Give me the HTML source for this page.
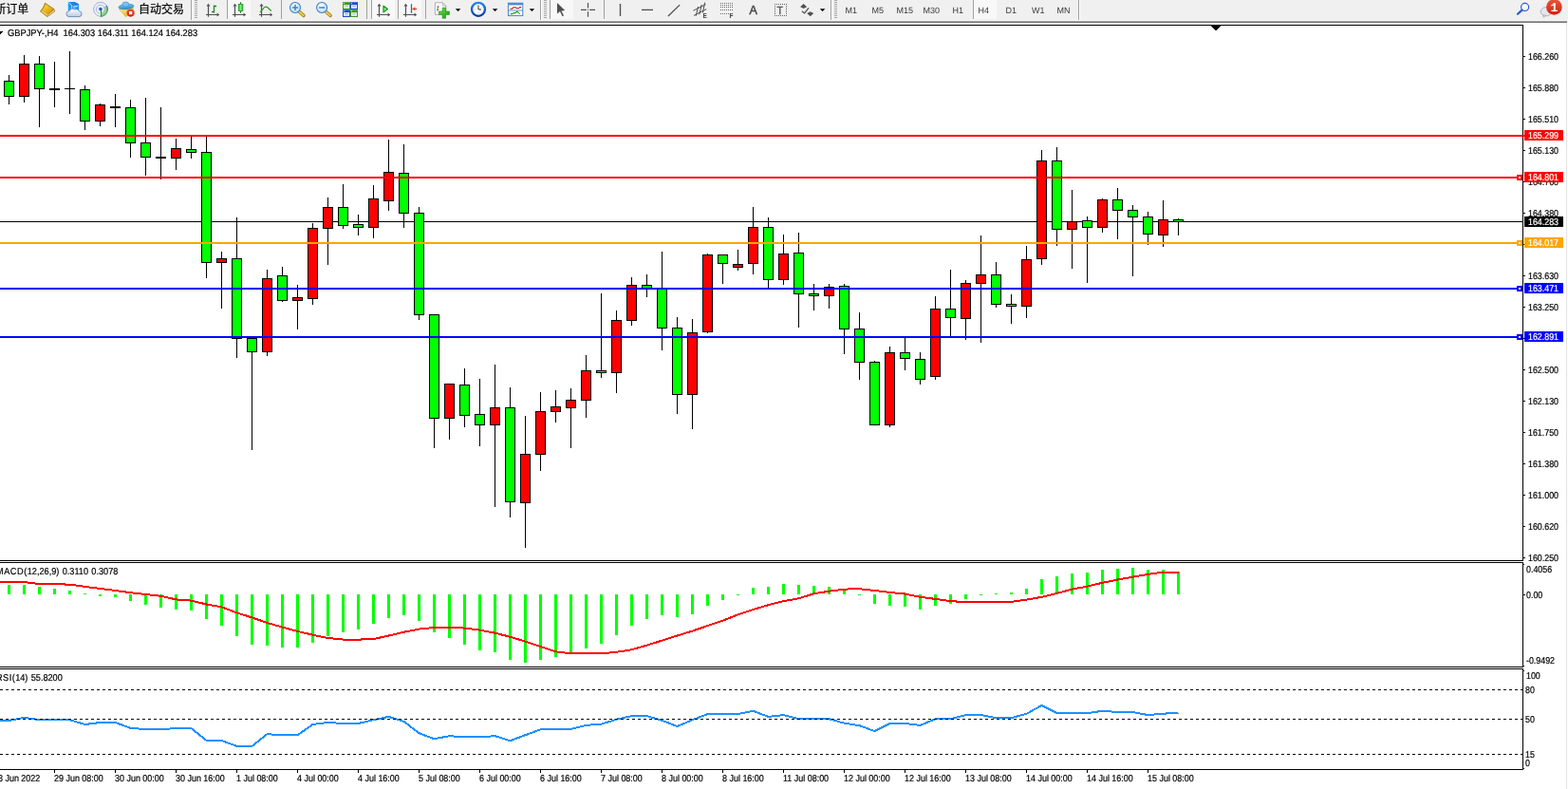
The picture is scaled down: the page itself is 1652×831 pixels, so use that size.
<!DOCTYPE html>
<html lang="zh">
<head>
<meta charset="utf-8">
<title>GBPJPY-,H4</title>
<style>
html,body{margin:0;padding:0;background:#fff;}
body{width:1652px;height:831px;position:relative;overflow:hidden;font-family:"Liberation Sans","Noto Sans CJK SC",sans-serif;}
#tb{position:absolute;left:0;top:0;width:1652px;height:24px;background:#f0f0f0;overflow:hidden;}
#tb .l0{position:absolute;left:0;top:21px;width:1652px;height:1px;background:#f6f6f6;}
#tb .l1{position:absolute;left:0;top:22px;width:1651px;height:1px;background:#a8a8a8;}
#tb .l2{position:absolute;left:0;top:23px;width:1651px;height:1px;background:#6e6e6e;}
#tbsvg{position:absolute;left:0;top:0;}
#chart{position:absolute;left:0;top:0;}
.ax,.pb,.tt{position:absolute;white-space:nowrap;font-size:10px;line-height:11px;color:#000;transform:scaleX(0.885);transform-origin:0 0;word-spacing:0.9px;text-rendering:geometricPrecision;-webkit-text-stroke:0.22px currentColor;}
.pb{left:1606px;width:41px;height:11px;color:#fff;transform:none;}
.pb span{position:absolute;left:4.3px;top:1px;transform:scaleX(0.885);transform-origin:0 0;}
.tt{color:#3a3a3a;top:5.5px;font-size:9px;transform:none;-webkit-text-stroke:0;}
.cn{position:absolute;white-space:nowrap;font-size:12px;line-height:14px;top:2.5px;color:#000;-webkit-text-stroke:0.2px #000;}
.sep{position:absolute;top:0;width:1px;height:20px;background:#a0a0a0;}
.grip{position:absolute;top:0;width:3px;height:19px;background:repeating-linear-gradient(to bottom,#a6a6a6 0,#a6a6a6 1px,#f4f4f4 1px,#f4f4f4 2px);}
.act{position:absolute;top:0;height:20px;background:#f8f8f8;}
</style>
</head>
<body>
<svg id="chart" width="1652" height="831" viewBox="0 0 1652 831" shape-rendering="crispEdges">
<rect x="0" y="26" width="1605" height="1" fill="#000"/>
<rect x="1604" y="26" width="1" height="565" fill="#000"/>
<rect x="0" y="590" width="1605" height="1" fill="#000"/>
<rect x="0" y="592" width="1605" height="1" fill="#000"/>
<rect x="1604" y="592" width="1" height="111" fill="#000"/>
<rect x="0" y="702" width="1605" height="1" fill="#000"/>
<rect x="0" y="704" width="1605" height="1" fill="#000"/>
<rect x="1604" y="704" width="1" height="107" fill="#000"/>
<rect x="0" y="810" width="1605" height="1" fill="#000"/>
<polygon points="1275,27 1286,27 1280.5,32.5" fill="#000"/>
<polygon points="0,32.5 3.5,32.5 0.5,36" fill="#000"/>
<rect x="1605" y="59" width="2" height="1" fill="#000"/>
<rect x="1605" y="92" width="2" height="1" fill="#000"/>
<rect x="1605" y="125" width="2" height="1" fill="#000"/>
<rect x="1605" y="158" width="2" height="1" fill="#000"/>
<rect x="1605" y="191" width="2" height="1" fill="#000"/>
<rect x="1605" y="224" width="2" height="1" fill="#000"/>
<rect x="1605" y="290" width="2" height="1" fill="#000"/>
<rect x="1605" y="323" width="2" height="1" fill="#000"/>
<rect x="1605" y="389" width="2" height="1" fill="#000"/>
<rect x="1605" y="422" width="2" height="1" fill="#000"/>
<rect x="1605" y="455" width="2" height="1" fill="#000"/>
<rect x="1605" y="488" width="2" height="1" fill="#000"/>
<rect x="1605" y="521" width="2" height="1" fill="#000"/>
<rect x="1605" y="554" width="2" height="1" fill="#000"/>
<rect x="1605" y="587" width="2" height="1" fill="#000"/>
<rect x="1605" y="626" width="2" height="1" fill="#000"/>
<rect x="1605" y="257" width="1" height="1" fill="#000"/>
<rect x="1605" y="356" width="1" height="1" fill="#000"/>
<rect x="1605" y="594" width="1" height="1" fill="#000"/>
<rect x="1605" y="701" width="1" height="1" fill="#000"/>
<rect x="1605" y="706" width="1" height="1" fill="#000"/>
<rect x="1605" y="809" width="1" height="1" fill="#000"/>
<rect x="0" y="233" width="1604" height="1" fill="#000"/>
<rect x="9" y="79" width="1" height="31" fill="#000"/>
<rect x="4" y="85" width="11" height="17" fill="#000"/>
<rect x="5" y="86" width="9" height="15" fill="#00ff00"/>
<rect x="25" y="58" width="1" height="50" fill="#000"/>
<rect x="20" y="67" width="11" height="35" fill="#000"/>
<rect x="21" y="68" width="9" height="33" fill="#ff0000"/>
<rect x="41" y="59" width="1" height="75" fill="#000"/>
<rect x="36" y="67" width="11" height="27" fill="#000"/>
<rect x="37" y="68" width="9" height="25" fill="#00ff00"/>
<rect x="57" y="65" width="1" height="48" fill="#000"/>
<rect x="52" y="93" width="11" height="2" fill="#000"/>
<rect x="73" y="54" width="1" height="66" fill="#000"/>
<rect x="68" y="93" width="11" height="1" fill="#000"/>
<rect x="89" y="90" width="1" height="47" fill="#000"/>
<rect x="84" y="94" width="11" height="34" fill="#000"/>
<rect x="85" y="95" width="9" height="32" fill="#00ff00"/>
<rect x="105" y="109" width="1" height="24" fill="#000"/>
<rect x="100" y="110" width="11" height="18" fill="#000"/>
<rect x="101" y="111" width="9" height="16" fill="#ff0000"/>
<rect x="121" y="99" width="1" height="35" fill="#000"/>
<rect x="116" y="112" width="11" height="2" fill="#000"/>
<rect x="137" y="105" width="1" height="61" fill="#000"/>
<rect x="132" y="113" width="11" height="38" fill="#000"/>
<rect x="133" y="114" width="9" height="36" fill="#00ff00"/>
<rect x="153" y="103" width="1" height="82" fill="#000"/>
<rect x="148" y="150" width="11" height="16" fill="#000"/>
<rect x="149" y="151" width="9" height="14" fill="#00ff00"/>
<rect x="169" y="113" width="1" height="76" fill="#000"/>
<rect x="164" y="165" width="11" height="2" fill="#000"/>
<rect x="185" y="146" width="1" height="33" fill="#000"/>
<rect x="180" y="156" width="11" height="11" fill="#000"/>
<rect x="181" y="157" width="9" height="9" fill="#ff0000"/>
<rect x="201" y="144" width="1" height="23" fill="#000"/>
<rect x="196" y="157" width="11" height="4" fill="#000"/>
<rect x="197" y="158" width="9" height="2" fill="#00ff00"/>
<rect x="217" y="144" width="1" height="149" fill="#000"/>
<rect x="212" y="160" width="11" height="117" fill="#000"/>
<rect x="213" y="161" width="9" height="115" fill="#00ff00"/>
<rect x="233" y="265" width="1" height="60" fill="#000"/>
<rect x="228" y="272" width="11" height="5" fill="#000"/>
<rect x="229" y="273" width="9" height="3" fill="#ff0000"/>
<rect x="249" y="229" width="1" height="148" fill="#000"/>
<rect x="244" y="272" width="11" height="85" fill="#000"/>
<rect x="245" y="273" width="9" height="83" fill="#00ff00"/>
<rect x="265" y="356" width="1" height="118" fill="#000"/>
<rect x="260" y="356" width="11" height="15" fill="#000"/>
<rect x="261" y="357" width="9" height="13" fill="#00ff00"/>
<rect x="281" y="284" width="1" height="91" fill="#000"/>
<rect x="276" y="293" width="11" height="78" fill="#000"/>
<rect x="277" y="294" width="9" height="76" fill="#ff0000"/>
<rect x="297" y="281" width="1" height="37" fill="#000"/>
<rect x="292" y="290" width="11" height="27" fill="#000"/>
<rect x="293" y="291" width="9" height="25" fill="#00ff00"/>
<rect x="313" y="300" width="1" height="47" fill="#000"/>
<rect x="308" y="313" width="11" height="4" fill="#000"/>
<rect x="309" y="314" width="9" height="2" fill="#ff0000"/>
<rect x="329" y="235" width="1" height="86" fill="#000"/>
<rect x="324" y="240" width="11" height="75" fill="#000"/>
<rect x="325" y="241" width="9" height="73" fill="#ff0000"/>
<rect x="345" y="208" width="1" height="71" fill="#000"/>
<rect x="340" y="218" width="11" height="23" fill="#000"/>
<rect x="341" y="219" width="9" height="21" fill="#ff0000"/>
<rect x="361" y="194" width="1" height="47" fill="#000"/>
<rect x="356" y="218" width="11" height="20" fill="#000"/>
<rect x="357" y="219" width="9" height="18" fill="#00ff00"/>
<rect x="377" y="226" width="1" height="22" fill="#000"/>
<rect x="372" y="236" width="11" height="4" fill="#000"/>
<rect x="373" y="237" width="9" height="2" fill="#00ff00"/>
<rect x="393" y="195" width="1" height="56" fill="#000"/>
<rect x="388" y="209" width="11" height="31" fill="#000"/>
<rect x="389" y="210" width="9" height="29" fill="#ff0000"/>
<rect x="409" y="147" width="1" height="75" fill="#000"/>
<rect x="404" y="181" width="11" height="31" fill="#000"/>
<rect x="405" y="182" width="9" height="29" fill="#ff0000"/>
<rect x="425" y="152" width="1" height="88" fill="#000"/>
<rect x="420" y="182" width="11" height="43" fill="#000"/>
<rect x="421" y="183" width="9" height="41" fill="#00ff00"/>
<rect x="441" y="218" width="1" height="119" fill="#000"/>
<rect x="436" y="224" width="11" height="108" fill="#000"/>
<rect x="437" y="225" width="9" height="106" fill="#00ff00"/>
<rect x="457" y="331" width="1" height="141" fill="#000"/>
<rect x="452" y="331" width="11" height="110" fill="#000"/>
<rect x="453" y="332" width="9" height="108" fill="#00ff00"/>
<rect x="473" y="404" width="1" height="59" fill="#000"/>
<rect x="468" y="404" width="11" height="37" fill="#000"/>
<rect x="469" y="405" width="9" height="35" fill="#ff0000"/>
<rect x="489" y="388" width="1" height="62" fill="#000"/>
<rect x="484" y="405" width="11" height="33" fill="#000"/>
<rect x="485" y="406" width="9" height="31" fill="#00ff00"/>
<rect x="505" y="399" width="1" height="71" fill="#000"/>
<rect x="500" y="436" width="11" height="12" fill="#000"/>
<rect x="501" y="437" width="9" height="10" fill="#00ff00"/>
<rect x="521" y="384" width="1" height="150" fill="#000"/>
<rect x="516" y="429" width="11" height="19" fill="#000"/>
<rect x="517" y="430" width="9" height="17" fill="#ff0000"/>
<rect x="537" y="408" width="1" height="137" fill="#000"/>
<rect x="532" y="429" width="11" height="100" fill="#000"/>
<rect x="533" y="430" width="9" height="98" fill="#00ff00"/>
<rect x="553" y="438" width="1" height="139" fill="#000"/>
<rect x="548" y="478" width="11" height="52" fill="#000"/>
<rect x="549" y="479" width="9" height="50" fill="#ff0000"/>
<rect x="569" y="413" width="1" height="83" fill="#000"/>
<rect x="564" y="433" width="11" height="46" fill="#000"/>
<rect x="565" y="434" width="9" height="44" fill="#ff0000"/>
<rect x="585" y="411" width="1" height="34" fill="#000"/>
<rect x="580" y="428" width="11" height="6" fill="#000"/>
<rect x="581" y="429" width="9" height="4" fill="#ff0000"/>
<rect x="601" y="409" width="1" height="63" fill="#000"/>
<rect x="596" y="421" width="11" height="9" fill="#000"/>
<rect x="597" y="422" width="9" height="7" fill="#ff0000"/>
<rect x="617" y="374" width="1" height="66" fill="#000"/>
<rect x="612" y="390" width="11" height="32" fill="#000"/>
<rect x="613" y="391" width="9" height="30" fill="#ff0000"/>
<rect x="633" y="309" width="1" height="89" fill="#000"/>
<rect x="628" y="390" width="11" height="3" fill="#000"/>
<rect x="629" y="391" width="9" height="1" fill="#00ff00"/>
<rect x="649" y="327" width="1" height="87" fill="#000"/>
<rect x="644" y="337" width="11" height="56" fill="#000"/>
<rect x="645" y="338" width="9" height="54" fill="#ff0000"/>
<rect x="665" y="292" width="1" height="51" fill="#000"/>
<rect x="660" y="300" width="11" height="38" fill="#000"/>
<rect x="661" y="301" width="9" height="36" fill="#ff0000"/>
<rect x="681" y="289" width="1" height="24" fill="#000"/>
<rect x="676" y="300" width="11" height="4" fill="#000"/>
<rect x="677" y="301" width="9" height="2" fill="#00ff00"/>
<rect x="697" y="265" width="1" height="104" fill="#000"/>
<rect x="692" y="303" width="11" height="43" fill="#000"/>
<rect x="693" y="304" width="9" height="41" fill="#00ff00"/>
<rect x="713" y="334" width="1" height="102" fill="#000"/>
<rect x="708" y="345" width="11" height="71" fill="#000"/>
<rect x="709" y="346" width="9" height="69" fill="#00ff00"/>
<rect x="729" y="336" width="1" height="116" fill="#000"/>
<rect x="724" y="350" width="11" height="66" fill="#000"/>
<rect x="725" y="351" width="9" height="64" fill="#ff0000"/>
<rect x="745" y="267" width="1" height="84" fill="#000"/>
<rect x="740" y="268" width="11" height="82" fill="#000"/>
<rect x="741" y="269" width="9" height="80" fill="#ff0000"/>
<rect x="761" y="268" width="1" height="31" fill="#000"/>
<rect x="756" y="268" width="11" height="10" fill="#000"/>
<rect x="757" y="269" width="9" height="8" fill="#00ff00"/>
<rect x="777" y="263" width="1" height="22" fill="#000"/>
<rect x="772" y="278" width="11" height="4" fill="#000"/>
<rect x="773" y="279" width="9" height="2" fill="#ff0000"/>
<rect x="793" y="218" width="1" height="71" fill="#000"/>
<rect x="788" y="239" width="11" height="39" fill="#000"/>
<rect x="789" y="240" width="9" height="37" fill="#ff0000"/>
<rect x="809" y="229" width="1" height="75" fill="#000"/>
<rect x="804" y="239" width="11" height="56" fill="#000"/>
<rect x="805" y="240" width="9" height="54" fill="#00ff00"/>
<rect x="825" y="247" width="1" height="53" fill="#000"/>
<rect x="820" y="267" width="11" height="28" fill="#000"/>
<rect x="821" y="268" width="9" height="26" fill="#ff0000"/>
<rect x="841" y="245" width="1" height="100" fill="#000"/>
<rect x="836" y="266" width="11" height="44" fill="#000"/>
<rect x="837" y="267" width="9" height="42" fill="#00ff00"/>
<rect x="857" y="299" width="1" height="28" fill="#000"/>
<rect x="852" y="309" width="11" height="3" fill="#000"/>
<rect x="853" y="310" width="9" height="1" fill="#00ff00"/>
<rect x="873" y="299" width="1" height="26" fill="#000"/>
<rect x="868" y="302" width="11" height="10" fill="#000"/>
<rect x="869" y="303" width="9" height="8" fill="#ff0000"/>
<rect x="889" y="299" width="1" height="74" fill="#000"/>
<rect x="884" y="301" width="11" height="46" fill="#000"/>
<rect x="885" y="302" width="9" height="44" fill="#00ff00"/>
<rect x="905" y="329" width="1" height="71" fill="#000"/>
<rect x="900" y="346" width="11" height="36" fill="#000"/>
<rect x="901" y="347" width="9" height="34" fill="#00ff00"/>
<rect x="921" y="380" width="1" height="67" fill="#000"/>
<rect x="916" y="381" width="11" height="67" fill="#000"/>
<rect x="917" y="382" width="9" height="65" fill="#00ff00"/>
<rect x="937" y="365" width="1" height="85" fill="#000"/>
<rect x="932" y="371" width="11" height="77" fill="#000"/>
<rect x="933" y="372" width="9" height="75" fill="#ff0000"/>
<rect x="953" y="356" width="1" height="34" fill="#000"/>
<rect x="948" y="371" width="11" height="7" fill="#000"/>
<rect x="949" y="372" width="9" height="5" fill="#00ff00"/>
<rect x="969" y="371" width="1" height="34" fill="#000"/>
<rect x="964" y="378" width="11" height="22" fill="#000"/>
<rect x="965" y="379" width="9" height="20" fill="#00ff00"/>
<rect x="985" y="312" width="1" height="88" fill="#000"/>
<rect x="980" y="325" width="11" height="72" fill="#000"/>
<rect x="981" y="326" width="9" height="70" fill="#ff0000"/>
<rect x="1001" y="284" width="1" height="70" fill="#000"/>
<rect x="996" y="325" width="11" height="10" fill="#000"/>
<rect x="997" y="326" width="9" height="8" fill="#00ff00"/>
<rect x="1017" y="295" width="1" height="63" fill="#000"/>
<rect x="1012" y="298" width="11" height="38" fill="#000"/>
<rect x="1013" y="299" width="9" height="36" fill="#ff0000"/>
<rect x="1033" y="248" width="1" height="113" fill="#000"/>
<rect x="1028" y="289" width="11" height="10" fill="#000"/>
<rect x="1029" y="290" width="9" height="8" fill="#ff0000"/>
<rect x="1049" y="276" width="1" height="48" fill="#000"/>
<rect x="1044" y="289" width="11" height="32" fill="#000"/>
<rect x="1045" y="290" width="9" height="30" fill="#00ff00"/>
<rect x="1065" y="310" width="1" height="31" fill="#000"/>
<rect x="1060" y="320" width="11" height="3" fill="#000"/>
<rect x="1061" y="321" width="9" height="1" fill="#00ff00"/>
<rect x="1081" y="259" width="1" height="76" fill="#000"/>
<rect x="1076" y="273" width="11" height="50" fill="#000"/>
<rect x="1077" y="274" width="9" height="48" fill="#ff0000"/>
<rect x="1097" y="158" width="1" height="121" fill="#000"/>
<rect x="1092" y="169" width="11" height="104" fill="#000"/>
<rect x="1093" y="170" width="9" height="102" fill="#ff0000"/>
<rect x="1113" y="155" width="1" height="104" fill="#000"/>
<rect x="1108" y="169" width="11" height="73" fill="#000"/>
<rect x="1109" y="170" width="9" height="71" fill="#00ff00"/>
<rect x="1129" y="200" width="1" height="83" fill="#000"/>
<rect x="1124" y="233" width="11" height="9" fill="#000"/>
<rect x="1125" y="234" width="9" height="7" fill="#ff0000"/>
<rect x="1145" y="228" width="1" height="70" fill="#000"/>
<rect x="1140" y="232" width="11" height="8" fill="#000"/>
<rect x="1141" y="233" width="9" height="6" fill="#00ff00"/>
<rect x="1161" y="209" width="1" height="36" fill="#000"/>
<rect x="1156" y="210" width="11" height="30" fill="#000"/>
<rect x="1157" y="211" width="9" height="28" fill="#ff0000"/>
<rect x="1177" y="198" width="1" height="54" fill="#000"/>
<rect x="1172" y="210" width="11" height="12" fill="#000"/>
<rect x="1173" y="211" width="9" height="10" fill="#00ff00"/>
<rect x="1193" y="216" width="1" height="75" fill="#000"/>
<rect x="1188" y="221" width="11" height="8" fill="#000"/>
<rect x="1189" y="222" width="9" height="6" fill="#00ff00"/>
<rect x="1209" y="223" width="1" height="35" fill="#000"/>
<rect x="1204" y="228" width="11" height="19" fill="#000"/>
<rect x="1205" y="229" width="9" height="17" fill="#00ff00"/>
<rect x="1225" y="211" width="1" height="49" fill="#000"/>
<rect x="1220" y="231" width="11" height="17" fill="#000"/>
<rect x="1221" y="232" width="9" height="15" fill="#ff0000"/>
<rect x="1241" y="230" width="1" height="18" fill="#000"/>
<rect x="1236" y="231" width="11" height="3" fill="#000"/>
<rect x="1237" y="232" width="9" height="1" fill="#00ff00"/>
<rect x="0" y="142" width="1606" height="2" fill="#ff0000"/>
<rect x="0" y="186" width="1598" height="2" fill="#ff0000"/>
<rect x="1598" y="184" width="6" height="6" fill="#ff0000"/>
<rect x="1600" y="186" width="2" height="2" fill="#fff"/>
<rect x="0" y="255" width="1598" height="2" fill="#ffa500"/>
<rect x="1598" y="253" width="6" height="6" fill="#ffa500"/>
<rect x="1600" y="255" width="2" height="2" fill="#fff"/>
<rect x="0" y="303" width="1598" height="2" fill="#0000ff"/>
<rect x="1598" y="301" width="6" height="6" fill="#0000ff"/>
<rect x="1600" y="303" width="2" height="2" fill="#fff"/>
<rect x="0" y="354" width="1598" height="2" fill="#0000ff"/>
<rect x="1598" y="352" width="6" height="6" fill="#0000ff"/>
<rect x="1600" y="354" width="2" height="2" fill="#fff"/>
<rect x="8" y="616" width="3" height="10" fill="#00ff00"/>
<rect x="24" y="616" width="3" height="10" fill="#00ff00"/>
<rect x="40" y="618" width="3" height="8" fill="#00ff00"/>
<rect x="56" y="620" width="3" height="6" fill="#00ff00"/>
<rect x="72" y="622" width="3" height="4" fill="#00ff00"/>
<rect x="88" y="625" width="3" height="1" fill="#00ff00"/>
<rect x="104" y="626" width="3" height="2" fill="#00ff00"/>
<rect x="120" y="626" width="3" height="3" fill="#00ff00"/>
<rect x="136" y="626" width="3" height="7" fill="#00ff00"/>
<rect x="152" y="626" width="3" height="11" fill="#00ff00"/>
<rect x="168" y="626" width="3" height="14" fill="#00ff00"/>
<rect x="184" y="626" width="3" height="16" fill="#00ff00"/>
<rect x="200" y="626" width="3" height="17" fill="#00ff00"/>
<rect x="216" y="626" width="3" height="26" fill="#00ff00"/>
<rect x="232" y="626" width="3" height="33" fill="#00ff00"/>
<rect x="248" y="626" width="3" height="44" fill="#00ff00"/>
<rect x="264" y="626" width="3" height="53" fill="#00ff00"/>
<rect x="280" y="626" width="3" height="54" fill="#00ff00"/>
<rect x="296" y="626" width="3" height="56" fill="#00ff00"/>
<rect x="312" y="626" width="3" height="56" fill="#00ff00"/>
<rect x="328" y="626" width="3" height="51" fill="#00ff00"/>
<rect x="344" y="626" width="3" height="44" fill="#00ff00"/>
<rect x="360" y="626" width="3" height="40" fill="#00ff00"/>
<rect x="376" y="626" width="3" height="37" fill="#00ff00"/>
<rect x="392" y="626" width="3" height="31" fill="#00ff00"/>
<rect x="408" y="626" width="3" height="25" fill="#00ff00"/>
<rect x="424" y="626" width="3" height="22" fill="#00ff00"/>
<rect x="440" y="626" width="3" height="28" fill="#00ff00"/>
<rect x="456" y="626" width="3" height="40" fill="#00ff00"/>
<rect x="472" y="626" width="3" height="46" fill="#00ff00"/>
<rect x="488" y="626" width="3" height="53" fill="#00ff00"/>
<rect x="504" y="626" width="3" height="59" fill="#00ff00"/>
<rect x="520" y="626" width="3" height="61" fill="#00ff00"/>
<rect x="536" y="626" width="3" height="69" fill="#00ff00"/>
<rect x="552" y="626" width="3" height="72" fill="#00ff00"/>
<rect x="568" y="626" width="3" height="69" fill="#00ff00"/>
<rect x="584" y="626" width="3" height="66" fill="#00ff00"/>
<rect x="600" y="626" width="3" height="62" fill="#00ff00"/>
<rect x="616" y="626" width="3" height="57" fill="#00ff00"/>
<rect x="632" y="626" width="3" height="52" fill="#00ff00"/>
<rect x="648" y="626" width="3" height="43" fill="#00ff00"/>
<rect x="664" y="626" width="3" height="33" fill="#00ff00"/>
<rect x="680" y="626" width="3" height="26" fill="#00ff00"/>
<rect x="696" y="626" width="3" height="22" fill="#00ff00"/>
<rect x="712" y="626" width="3" height="24" fill="#00ff00"/>
<rect x="728" y="626" width="3" height="21" fill="#00ff00"/>
<rect x="744" y="626" width="3" height="12" fill="#00ff00"/>
<rect x="760" y="626" width="3" height="6" fill="#00ff00"/>
<rect x="776" y="626" width="3" height="1" fill="#00ff00"/>
<rect x="792" y="619" width="3" height="7" fill="#00ff00"/>
<rect x="808" y="618" width="3" height="8" fill="#00ff00"/>
<rect x="824" y="615" width="3" height="11" fill="#00ff00"/>
<rect x="840" y="616" width="3" height="10" fill="#00ff00"/>
<rect x="856" y="617" width="3" height="9" fill="#00ff00"/>
<rect x="872" y="618" width="3" height="8" fill="#00ff00"/>
<rect x="888" y="620" width="3" height="6" fill="#00ff00"/>
<rect x="904" y="626" width="3" height="1" fill="#00ff00"/>
<rect x="920" y="626" width="3" height="10" fill="#00ff00"/>
<rect x="936" y="626" width="3" height="12" fill="#00ff00"/>
<rect x="952" y="626" width="3" height="13" fill="#00ff00"/>
<rect x="968" y="626" width="3" height="16" fill="#00ff00"/>
<rect x="984" y="626" width="3" height="12" fill="#00ff00"/>
<rect x="1000" y="626" width="3" height="10" fill="#00ff00"/>
<rect x="1016" y="626" width="3" height="5" fill="#00ff00"/>
<rect x="1032" y="626" width="3" height="1" fill="#00ff00"/>
<rect x="1048" y="625" width="3" height="1" fill="#00ff00"/>
<rect x="1064" y="624" width="3" height="2" fill="#00ff00"/>
<rect x="1080" y="620" width="3" height="6" fill="#00ff00"/>
<rect x="1096" y="610" width="3" height="16" fill="#00ff00"/>
<rect x="1112" y="607" width="3" height="19" fill="#00ff00"/>
<rect x="1128" y="604" width="3" height="22" fill="#00ff00"/>
<rect x="1144" y="603" width="3" height="23" fill="#00ff00"/>
<rect x="1160" y="600" width="3" height="26" fill="#00ff00"/>
<rect x="1176" y="599" width="3" height="27" fill="#00ff00"/>
<rect x="1192" y="598" width="3" height="28" fill="#00ff00"/>
<rect x="1208" y="600" width="3" height="26" fill="#00ff00"/>
<rect x="1224" y="600" width="3" height="26" fill="#00ff00"/>
<rect x="1240" y="602" width="3" height="24" fill="#00ff00"/>
<polyline points="0,613.1 9.5,613.1 25.5,613.1 41.5,615.1 57.5,615.3 73.5,615.6 89.5,617.9 105.5,619.9 121.5,622.0 137.5,624.2 153.5,626.0 169.5,627.8 185.5,631.4 201.5,632.6 217.5,636.5 233.5,639.3 249.5,645.4 265.5,650.4 281.5,656.0 297.5,660.6 313.5,664.9 329.5,668.7 345.5,672.0 361.5,673.6 377.5,673.6 393.5,673.1 409.5,669.5 425.5,665.7 441.5,662.6 457.5,660.9 473.5,660.6 489.5,661.6 505.5,663.6 521.5,666.7 537.5,670.8 553.5,675.6 569.5,680.9 585.5,686.3 601.5,688.3 617.5,688.3 633.5,688.3 649.5,686.8 665.5,684.3 681.5,679.6 697.5,674.6 713.5,669.5 729.5,664.6 745.5,659.1 761.5,653.7 777.5,647.4 793.5,642.0 809.5,637.2 825.5,633.1 841.5,630.3 857.5,625.3 873.5,622.7 889.5,620.6 905.5,620.2 921.5,622.0 937.5,624.0 953.5,625.5 969.5,628.8 985.5,630.9 1001.5,633.1 1017.5,634.2 1033.5,634.2 1049.5,634.2 1065.5,633.9 1081.5,631.6 1097.5,628.8 1113.5,625.0 1129.5,620.6 1145.5,617.6 1161.5,613.8 1177.5,610.5 1193.5,607.7 1209.5,604.9 1225.5,602.6 1241.5,602.6" fill="none" stroke="#ff0000" stroke-width="2"/>
<polyline points="0,758.9 9.5,758.9 25.5,755.9 41.5,758.2 57.5,758.2 73.5,758.2 89.5,763.0 105.5,761.0 121.5,761.0 137.5,766.8 153.5,768.1 169.5,768.1 185.5,767.1 201.5,767.1 217.5,780.0 233.5,780.0 249.5,785.9 265.5,785.9 281.5,773.2 297.5,774.2 313.5,774.2 329.5,763.0 345.5,761.0 361.5,762.0 377.5,762.0 393.5,758.2 409.5,754.9 425.5,759.9 441.5,772.2 457.5,778.2 473.5,775.2 489.5,776.2 505.5,776.2 521.5,775.2 537.5,780.2 553.5,774.2 569.5,768.3 585.5,768.3 601.5,767.8 617.5,763.8 633.5,762.7 649.5,757.7 665.5,754.1 681.5,754.1 697.5,758.9 713.5,765.0 729.5,758.2 745.5,752.1 761.5,752.1 777.5,752.1 793.5,748.8 809.5,754.9 825.5,753.1 841.5,757.2 857.5,757.2 873.5,757.2 889.5,761.7 905.5,764.2 921.5,770.1 937.5,762.0 953.5,762.0 969.5,764.0 985.5,757.2 1001.5,757.2 1017.5,753.1 1033.5,753.1 1049.5,756.1 1065.5,756.1 1081.5,751.8 1097.5,742.9 1113.5,751.1 1129.5,751.1 1145.5,751.1 1161.5,748.8 1177.5,750.0 1193.5,750.0 1209.5,753.1 1225.5,751.6 1241.5,751.1" fill="none" stroke="#1e90ff" stroke-width="2"/>
<line x1="0" y1="726.5" x2="1604" y2="726.5" stroke="#000" stroke-width="1" stroke-dasharray="3 3"/>
<line x1="0" y1="757.5" x2="1604" y2="757.5" stroke="#000" stroke-width="1" stroke-dasharray="3 3"/>
<line x1="0" y1="794.5" x2="1604" y2="794.5" stroke="#000" stroke-width="1" stroke-dasharray="3 3"/>
<rect x="57" y="811" width="1" height="3" fill="#000"/>
<rect x="121" y="811" width="1" height="3" fill="#000"/>
<rect x="185" y="811" width="1" height="3" fill="#000"/>
<rect x="249" y="811" width="1" height="3" fill="#000"/>
<rect x="313" y="811" width="1" height="3" fill="#000"/>
<rect x="377" y="811" width="1" height="3" fill="#000"/>
<rect x="441" y="811" width="1" height="3" fill="#000"/>
<rect x="505" y="811" width="1" height="3" fill="#000"/>
<rect x="569" y="811" width="1" height="3" fill="#000"/>
<rect x="633" y="811" width="1" height="3" fill="#000"/>
<rect x="697" y="811" width="1" height="3" fill="#000"/>
<rect x="761" y="811" width="1" height="3" fill="#000"/>
<rect x="825" y="811" width="1" height="3" fill="#000"/>
<rect x="889" y="811" width="1" height="3" fill="#000"/>
<rect x="953" y="811" width="1" height="3" fill="#000"/>
<rect x="1017" y="811" width="1" height="3" fill="#000"/>
<rect x="1081" y="811" width="1" height="3" fill="#000"/>
<rect x="1145" y="811" width="1" height="3" fill="#000"/>
<rect x="1209" y="811" width="1" height="3" fill="#000"/>
<rect x="1650" y="24" width="1" height="807" fill="#e3e3e3"/>
</svg>
<div class="ax" style="left:1610.3px;top:55px;">166.260</div>
<div class="ax" style="left:1610.3px;top:88px;">165.880</div>
<div class="ax" style="left:1610.3px;top:121px;">165.510</div>
<div class="ax" style="left:1610.3px;top:154px;">165.130</div>
<div class="ax" style="left:1610.3px;top:187px;">164.760</div>
<div class="ax" style="left:1610.3px;top:220px;">164.380</div>
<div class="ax" style="left:1610.3px;top:286px;">163.630</div>
<div class="ax" style="left:1610.3px;top:319px;">163.250</div>
<div class="ax" style="left:1610.3px;top:385px;">162.500</div>
<div class="ax" style="left:1610.3px;top:418px;">162.130</div>
<div class="ax" style="left:1610.3px;top:451px;">161.750</div>
<div class="ax" style="left:1610.3px;top:484px;">161.380</div>
<div class="ax" style="left:1610.3px;top:517px;">161.000</div>
<div class="ax" style="left:1610.3px;top:550px;">160.620</div>
<div class="ax" style="left:1610.3px;top:583px;">160.250</div>
<div class="pb" style="top:137px;background:#ff0000"><span>165.299</span></div>
<div class="pb" style="top:181px;background:#ff0000"><span>164.801</span></div>
<div class="pb" style="top:228px;background:#000000"><span>164.283</span></div>
<div class="pb" style="top:250px;background:#ffa500"><span>164.017</span></div>
<div class="pb" style="top:298px;background:#0000ff"><span>163.471</span></div>
<div class="pb" style="top:349px;background:#0000ff"><span>162.891</span></div>
<div class="ax" style="left:1608px;top:595px;">0.4056</div>
<div class="ax" style="left:1608px;top:622px;">0.00</div>
<div class="ax" style="left:1608px;top:691px;">-0.9492</div>
<div class="ax" style="left:1608px;top:707px;">100</div>
<div class="ax" style="left:1607px;top:722px;">80</div>
<div class="ax" style="left:1607px;top:753px;">50</div>
<div class="ax" style="left:1607px;top:790px;">15</div>
<div class="ax" style="left:1607px;top:799px;">0</div>
<div class="ax" style="left:-7.5px;top:815px;word-spacing:0;transform:scaleX(0.895)">28 Jun 2022</div>
<div class="ax" style="left:56.5px;top:815px;word-spacing:0;transform:scaleX(0.895)">29 Jun 08:00</div>
<div class="ax" style="left:120.5px;top:815px;word-spacing:0;transform:scaleX(0.895)">30 Jun 00:00</div>
<div class="ax" style="left:184.5px;top:815px;word-spacing:0;transform:scaleX(0.895)">30 Jun 16:00</div>
<div class="ax" style="left:248.5px;top:815px;word-spacing:0;transform:scaleX(0.895)">1 Jul 08:00</div>
<div class="ax" style="left:312.5px;top:815px;word-spacing:0;transform:scaleX(0.895)">4 Jul 00:00</div>
<div class="ax" style="left:376.5px;top:815px;word-spacing:0;transform:scaleX(0.895)">4 Jul 16:00</div>
<div class="ax" style="left:440.5px;top:815px;word-spacing:0;transform:scaleX(0.895)">5 Jul 08:00</div>
<div class="ax" style="left:504.5px;top:815px;word-spacing:0;transform:scaleX(0.895)">6 Jul 00:00</div>
<div class="ax" style="left:568.5px;top:815px;word-spacing:0;transform:scaleX(0.895)">6 Jul 16:00</div>
<div class="ax" style="left:632.5px;top:815px;word-spacing:0;transform:scaleX(0.895)">7 Jul 08:00</div>
<div class="ax" style="left:696.5px;top:815px;word-spacing:0;transform:scaleX(0.895)">8 Jul 00:00</div>
<div class="ax" style="left:760.5px;top:815px;word-spacing:0;transform:scaleX(0.895)">8 Jul 16:00</div>
<div class="ax" style="left:824.5px;top:815px;word-spacing:0;transform:scaleX(0.895)">11 Jul 08:00</div>
<div class="ax" style="left:888.5px;top:815px;word-spacing:0;transform:scaleX(0.895)">12 Jul 00:00</div>
<div class="ax" style="left:952.5px;top:815px;word-spacing:0;transform:scaleX(0.895)">12 Jul 16:00</div>
<div class="ax" style="left:1016.5px;top:815px;word-spacing:0;transform:scaleX(0.895)">13 Jul 08:00</div>
<div class="ax" style="left:1080.5px;top:815px;word-spacing:0;transform:scaleX(0.895)">14 Jul 00:00</div>
<div class="ax" style="left:1144.5px;top:815px;word-spacing:0;transform:scaleX(0.895)">14 Jul 16:00</div>
<div class="ax" style="left:1208.5px;top:815px;word-spacing:0;transform:scaleX(0.895)">15 Jul 08:00</div>
<div class="ax" style="left:8px;top:30px;transform:scaleX(0.93);word-spacing:0">GBPJPY-,H4&nbsp; 164.303 164.311 164.124 164.283</div>
<div class="ax" style="left:-4px;top:597px;transform:scaleX(0.915)"><span style="letter-spacing:0.6px">MACD(</span>12,26,9) 0.3110 0.3078</div>
<div class="ax" style="left:-4px;top:709px;transform:scaleX(0.915)"><span style="letter-spacing:0.5px">RSI(</span>14) 55.8200</div>
<div id="tb">
<div class="act" style="left:240px;width:24px"></div>
<div class="act" style="left:392px;width:24px"></div>
<div class="act" style="left:420px;width:24px"></div>
<div class="act" style="left:580px;width:24px"></div>
<div class="act" style="left:1026px;width:24px"></div>
<div class="sep" style="left:201px;height:22px"></div>
<div class="sep" style="left:202px;height:22px;background:#fff"></div>
<div class="sep" style="left:239px;height:20px"></div>
<div class="sep" style="left:296px;height:20px"></div>
<div class="sep" style="left:386px;height:20px"></div>
<div class="sep" style="left:391px;height:20px"></div>
<div class="sep" style="left:419px;height:20px"></div>
<div class="sep" style="left:448px;height:20px"></div>
<div class="sep" style="left:569px;height:22px"></div>
<div class="sep" style="left:570px;height:22px;background:#fff"></div>
<div class="sep" style="left:579px;height:20px"></div>
<div class="sep" style="left:636px;height:20px"></div>
<div class="sep" style="left:875px;height:22px"></div>
<div class="sep" style="left:876px;height:22px;background:#fff"></div>
<div class="sep" style="left:1025px;height:20px"></div>
<div class="sep" style="left:1136px;height:22px"></div>
<div class="sep" style="left:1137px;height:22px;background:#fff"></div>
<div class="grip" style="left:205px"></div>
<div class="grip" style="left:573px"></div>
<div class="grip" style="left:879px"></div>
<div class="l0"></div><div class="l1"></div><div class="l2"></div>
<div class="cn" style="left:-5.8px">新订单</div>
<div class="cn" style="left:146px">自动交易</div>
<div class="tt" style="left:890.5px">M1</div>
<div class="tt" style="left:918.5px">M5</div>
<div class="tt" style="left:944.5px">M15</div>
<div class="tt" style="left:972.5px">M30</div>
<div class="tt" style="left:1003.5px">H1</div>
<div class="tt" style="left:1030.5px">H4</div>
<div class="tt" style="left:1059.5px">D1</div>
<div class="tt" style="left:1087px">W1</div>
<div class="tt" style="left:1113.5px">MN</div>
<svg id="tbsvg" width="1652" height="24" viewBox="0 0 1652 24"><defs><linearGradient id="gBook" x1="0" y1="0" x2="1" y2="1"><stop offset="0" stop-color="#ffe450"/><stop offset="0.5" stop-color="#e8b818"/><stop offset="1" stop-color="#cc9410"/></linearGradient><linearGradient id="gCube" x1="0" y1="0" x2="1" y2="0"><stop offset="0" stop-color="#1a8fe8"/><stop offset="1" stop-color="#2a6fd0"/></linearGradient><linearGradient id="gCloud" x1="0" y1="0" x2="0" y2="1"><stop offset="0" stop-color="#ffffff"/><stop offset="1" stop-color="#b8c8e0"/></linearGradient><radialGradient id="gLens" cx="0.4" cy="0.35" r="0.7"><stop offset="0" stop-color="#f4fbff"/><stop offset="1" stop-color="#b8dcf4"/></radialGradient><linearGradient id="gHat" x1="0" y1="0" x2="0" y2="1"><stop offset="0" stop-color="#7cc4ee"/><stop offset="1" stop-color="#2f86c8"/></linearGradient><linearGradient id="gCone" x1="0" y1="0" x2="1" y2="1"><stop offset="0" stop-color="#fff08a"/><stop offset="1" stop-color="#e0a818"/></linearGradient><linearGradient id="gRed" x1="0" y1="0" x2="0" y2="1"><stop offset="0" stop-color="#e8583a"/><stop offset="1" stop-color="#d62010"/></linearGradient><linearGradient id="gPlus" x1="0" y1="0" x2="1" y2="1"><stop offset="0" stop-color="#6ee04a"/><stop offset="1" stop-color="#1a9a10"/></linearGradient><linearGradient id="gClock" x1="0" y1="0" x2="0" y2="1"><stop offset="0" stop-color="#2a86ec"/><stop offset="1" stop-color="#083c9c"/></linearGradient><linearGradient id="gCandle" x1="0" y1="0" x2="1" y2="0"><stop offset="0" stop-color="#30c030"/><stop offset="0.5" stop-color="#80f080"/><stop offset="1" stop-color="#20b020"/></linearGradient></defs>
<path d="M47.4 3.1L56.9 9.4L57.8 12.1L49.8 17.7L42.2 11.8C44.8 9.6 46.4 6.6 47.4 3.1Z" fill="#b47c0e" stroke="#a87408" stroke-width="0.5"/>
<path d="M50.6 15.6L56.7 10.4L57.2 11.9L50 17Z" fill="#e6d89c"/>
<path d="M47.9 4.2L56 9.6L50.3 14.7L44.6 10.5C46.2 8.6 47.2 6.6 47.9 4.2Z" fill="url(#gBook)"/>
<path d="M43.2 11.8L44.4 10.8L50.2 15L49.7 16.8Z" fill="#f2d46a"/>
<path d="M71.9 2.5L78.5 2L83.1 4.2V11H71.9Z" fill="#1c94f4"/>
<path d="M71.9 2.5L75.6 5.4V11H71.9Z" fill="#00a4f8"/><path d="M71.9 2.5L78.5 2L83.1 4.2L75.6 5.4Z" fill="#2a7ee0"/>
<path d="M72.6 3L75.6 5.4V10.6" stroke="#e8f6ff" stroke-width="0.7" fill="none"/><path d="M77.2 7.1L81.8 6.5" stroke="#e8f6ff" stroke-width="1"/><path d="M77.2 8.9H79.6" stroke="#c8e8ff" stroke-width="0.8"/>
<path d="M72.8 17.6a3 3 0 0 1 0.3-6a3.6 3.6 0 0 1 5.8-1.5a3 3 0 0 1 4.4 1.7a2.9 2.9 0 0 1 -0.2 5.8Z" fill="url(#gCloud)" stroke="#5878b4" stroke-width="0.8"/>
<defs><radialGradient id="gSig" gradientUnits="userSpaceOnUse" cx="105.9" cy="9.8" r="7.6"><stop offset="0.2" stop-color="#ffffff" stop-opacity="0"/><stop offset="0.6" stop-color="#9ed09e" stop-opacity="0.6"/><stop offset="1" stop-color="#4aa85a" stop-opacity="0.95"/></radialGradient></defs>
<path d="M105.9 9.8L112.6 5.6A7.9 7.9 0 0 1 106.4 17.7Z" fill="url(#gSig)"/>
<g fill="none"><path d="M106.4 17.2A7.4 7.4 0 1 1 112.4 6" stroke="#5f84dc" stroke-width="1" opacity="0.6"/><path d="M105 14.2A4.5 4.5 0 1 1 110 8" stroke="#6f90e0" stroke-width="1" opacity="0.6"/><path d="M110 8A4.5 4.5 0 0 1 107.4 14" stroke="#7ab88a" stroke-width="1" opacity="0.7"/></g>
<path d="M112.4 6A7.4 7.4 0 0 1 113.2 11.4" fill="none" stroke="#3a6a9a" stroke-width="1" opacity="0.8"/>
<path d="M106.5 10V17.8" stroke="#20a020" stroke-width="1.2"/><circle cx="105.9" cy="9.6" r="1.8" fill="#2454d4"/>
<path d="M125.4 9.4L140.6 8.6L132.6 17.8Z" fill="url(#gCone)" stroke="#e0a420" stroke-width="0.6"/>
<ellipse cx="133" cy="7" rx="8" ry="2.7" fill="url(#gHat)" stroke="#2a86b8" stroke-width="0.6" transform="rotate(-5 133 7)"/>
<ellipse cx="132.4" cy="4.6" rx="3.5" ry="2.6" fill="#74c2f0" stroke="#2a86b8" stroke-width="0.5"/>
<circle cx="137.6" cy="13.6" r="4.1" fill="url(#gRed)"/><rect x="136" y="12" width="3.2" height="3.2" fill="#fff"/>
<g stroke="#505050" stroke-width="1.2" fill="none"><path d="M219.5 17.8V5M217 15.5H230"/></g>
<path d="M219.5 3.8l-2 2.6h4zM231.2 15.5l-2.6-2v4z" fill="#505050"/>
<path d="M225.5 5.4V13.4M225.5 6.5h2.6M225.5 12.5h-2.4" stroke="#1a8a1a" stroke-width="1.3" fill="none"/>
<g stroke="#505050" stroke-width="1.2" fill="none"><path d="M247.5 17.8V5M245 15.5H258"/></g>
<path d="M247.5 3.8l-2 2.6h4zM259.2 15.5l-2.6-2v4z" fill="#505050"/>
<path d="M253.5 2.2V13.8" stroke="#1a8a1a" stroke-width="1.2"/><rect x="251.3" y="4.4" width="4.6" height="7.2" fill="url(#gCandle)" stroke="#189018" stroke-width="0.7"/>
<g stroke="#505050" stroke-width="1.2" fill="none"><path d="M275.5 17.8V5M273 15.5H286"/></g>
<path d="M275.5 3.8l-2 2.6h4zM287.2 15.5l-2.6-2v4z" fill="#505050"/>
<path d="M274 12.8C276.5 11.5 277.5 7.2 280 7.2C282.5 7.2 284 10.6 286 11.4" stroke="#2a9a2a" stroke-width="1.2" fill="none"/>
<path d="M314.6 11.8L320 16.4" stroke="#a07808" stroke-width="3.4" stroke-linecap="round"/>
<path d="M314.8 12L319.8 16.2" stroke="#ecd050" stroke-width="1.8" stroke-linecap="round"/>
<circle cx="311" cy="8" r="5.5" fill="url(#gLens)" stroke="#3a7ecc" stroke-width="1.1"/>
<path d="M308 8h6M311 5v6" stroke="#3a86b8" stroke-width="1.5"/>
<path d="M342.70000000000005 11.8L348.1 16.4" stroke="#a07808" stroke-width="3.4" stroke-linecap="round"/>
<path d="M342.90000000000003 12L347.90000000000003 16.2" stroke="#ecd050" stroke-width="1.8" stroke-linecap="round"/>
<circle cx="339.1" cy="8" r="5.5" fill="url(#gLens)" stroke="#3a7ecc" stroke-width="1.1"/>
<path d="M336.1 8h6" stroke="#3a86b8" stroke-width="1.5"/>
<rect x="361" y="2.2" width="8" height="7.8" fill="#3c9c18"/>
<rect x="362" y="5.2" width="6" height="3.6" fill="#f4f8ff"/>
<rect x="363" y="6.4" width="4" height="0.8" fill="#3c9c18" opacity="0.6"/>
<rect x="361.8" y="3.2" width="1" height="1" fill="#e8f0ff"/>
<rect x="369" y="2.2" width="8" height="7.8" fill="#1c50cc"/>
<rect x="370" y="5.2" width="6" height="3.6" fill="#f4f8ff"/>
<rect x="371" y="6.4" width="4" height="0.8" fill="#1c50cc" opacity="0.6"/>
<rect x="369.8" y="3.2" width="1" height="1" fill="#e8f0ff"/>
<rect x="361" y="10.2" width="8" height="7.8" fill="#1c50cc"/>
<rect x="362" y="13.2" width="6" height="3.6" fill="#f4f8ff"/>
<rect x="363" y="14.399999999999999" width="4" height="0.8" fill="#1c50cc" opacity="0.6"/>
<rect x="361.8" y="11.2" width="1" height="1" fill="#e8f0ff"/>
<rect x="369" y="10.2" width="8" height="7.8" fill="#3c9c18"/>
<rect x="370" y="13.2" width="6" height="3.6" fill="#f4f8ff"/>
<rect x="371" y="14.399999999999999" width="4" height="0.8" fill="#3c9c18" opacity="0.6"/>
<rect x="369.8" y="11.2" width="1" height="1" fill="#e8f0ff"/>
<g stroke="#505050" stroke-width="1.2" fill="none"><path d="M399.5 17.8V5M397 15.5H410"/></g>
<path d="M399.5 3.8l-2 2.6h4zM411.2 15.5l-2.6-2v4z" fill="#505050"/>
<path d="M404 6.2V12.9L408.4 9.5Z" fill="#7cf08c" stroke="#109a10" stroke-width="1.2" stroke-linejoin="round"/>
<g stroke="#505050" stroke-width="1.2" fill="none"><path d="M427.5 17.8V5M425 15.5H438"/></g>
<path d="M427.5 3.8l-2 2.6h4zM439.2 15.5l-2.6-2v4z" fill="#505050"/>
<path d="M433.5 4.2V13.8" stroke="#2070b0" stroke-width="1.3"/><path d="M434.6 9.4H439.2" stroke="#e05010" stroke-width="1.2"/><path d="M434.4 9.4l3-2.2v4.4z" fill="#e05010"/>
<path d="M458.4 2.8h8l3.4 3.2v9.4h-11.4z" fill="#fbfbfb" stroke="#a0a0a0" stroke-width="0.8"/><path d="M466.4 2.8v3.2h3.4" fill="none" stroke="#a0a0a0" stroke-width="0.7"/>
<path d="M461.2 6.2v5.4M461.2 7.2h1.4M461.2 10.4h-1" stroke="#606050" stroke-width="0.9" fill="none"/>
<path d="M466.2 8.2h3.4v3.8h3.8v3.4h-3.8v3.8h-3.4v-3.8h-3.8v-3.4h3.8z" fill="url(#gPlus)" stroke="#168a10" stroke-width="0.6"/>
<path d="M479.8 9.2h5.6l-2.8 2.9z" fill="#000"/>
<path d="M518.8 9.2h5.6l-2.8 2.9z" fill="#000"/>
<path d="M557.6 9.2h5.6l-2.8 2.9z" fill="#000"/>
<path d="M863.8 9.2h5.6l-2.8 2.9z" fill="#000"/>
<circle cx="504" cy="9.8" r="7" fill="#fbfcff" stroke="url(#gClock)" stroke-width="2.3"/>
<path d="M504 5.6V10h3" stroke="#303030" stroke-width="1" fill="none"/><path d="M504 14.2v-1.2M499.8 9.8h1" stroke="#9ab8e0" stroke-width="0.8"/>
<rect x="535.4" y="3.2" width="15.4" height="13.4" fill="#fff" stroke="#3a78c8" stroke-width="0.9"/><rect x="535.4" y="3.2" width="15.4" height="2.2" fill="#4a88d8"/><path d="M535.4 11h15.4" stroke="#3a78c8" stroke-width="0.8"/>
<path d="M537.4 9.2h2.2l1.4-1.4h2l1.4 1h2l1.4-1.2h1.4" stroke="#b02010" stroke-width="1.1" fill="none"/>
<path d="M537.8 14.6h2l1.6-1h1.6l1.8-1.6l1.4 1.4l1.6 1.2" stroke="#1a9a1a" stroke-width="1.1" fill="none"/>
<path d="M587 2.9V14.4L590 12L592.5 17.2L594 16.4L591.5 11.4L595.2 11Z" fill="#505050"/>
<path d="M619.5 2.9V8.6M619.5 12.2V17.8M612 10.4H617.8M621.2 10.4H627" stroke="#505050" stroke-width="1.2"/><rect x="619" y="9.9" width="1" height="1" fill="#505050"/>
<path d="M653.5 4V17" stroke="#505050" stroke-width="1.4"/><path d="M676 10.4H688" stroke="#505050" stroke-width="1.3"/><path d="M703.9 17L716.2 5.1" stroke="#505050" stroke-width="1.3"/>
<g stroke="#505050" stroke-width="1" fill="none"><path d="M730.4 11.2L743.6 4.6M731 16.4L744.2 9.6"/><path d="M733.2 16.8L735.6 7M736.8 15.2L739.2 5M740.4 13.4L742.6 2.6"/></g>
<text x="740.6" y="18.8" font-family="Liberation Sans, sans-serif" font-size="6.5" font-weight="bold" fill="#404040">E</text>
<g fill="#707070" shape-rendering="crispEdges"><rect x="759" y="3" width="1" height="1"/><rect x="761" y="3" width="1" height="1"/><rect x="763" y="3" width="1" height="1"/><rect x="765" y="3" width="1" height="1"/><rect x="767" y="3" width="1" height="1"/><rect x="769" y="3" width="1" height="1"/><rect x="771" y="3" width="1" height="1"/><rect x="759" y="5" width="1" height="1"/><rect x="761" y="5" width="1" height="1"/><rect x="763" y="5" width="1" height="1"/><rect x="765" y="5" width="1" height="1"/><rect x="767" y="5" width="1" height="1"/><rect x="769" y="5" width="1" height="1"/><rect x="771" y="5" width="1" height="1"/><rect x="759" y="7" width="1" height="1"/><rect x="761" y="7" width="1" height="1"/><rect x="763" y="7" width="1" height="1"/><rect x="765" y="7" width="1" height="1"/><rect x="767" y="7" width="1" height="1"/><rect x="769" y="7" width="1" height="1"/><rect x="771" y="7" width="1" height="1"/><rect x="759" y="10" width="1" height="1"/><rect x="761" y="10" width="1" height="1"/><rect x="763" y="10" width="1" height="1"/><rect x="765" y="10" width="1" height="1"/><rect x="767" y="10" width="1" height="1"/><rect x="769" y="10" width="1" height="1"/><rect x="771" y="10" width="1" height="1"/><rect x="759" y="14" width="1" height="1"/><rect x="761" y="14" width="1" height="1"/><rect x="763" y="14" width="1" height="1"/><rect x="765" y="14" width="1" height="1"/><rect x="767" y="14" width="1" height="1"/></g>
<text x="768.6" y="18.8" font-family="Liberation Sans, sans-serif" font-size="6.5" font-weight="bold" fill="#404040">F</text>
<text x="789.4" y="15.2" font-family="Liberation Sans, sans-serif" font-size="12.5" fill="#505050" stroke="#505050" stroke-width="0.6">A</text>
<g fill="#606060" shape-rendering="crispEdges"><rect x="816" y="4" width="1" height="1"/><rect x="816" y="16" width="1" height="1"/><rect x="818" y="4" width="1" height="1"/><rect x="818" y="16" width="1" height="1"/><rect x="820" y="4" width="1" height="1"/><rect x="820" y="16" width="1" height="1"/><rect x="822" y="4" width="1" height="1"/><rect x="822" y="16" width="1" height="1"/><rect x="824" y="4" width="1" height="1"/><rect x="824" y="16" width="1" height="1"/><rect x="826" y="4" width="1" height="1"/><rect x="826" y="16" width="1" height="1"/><rect x="828" y="4" width="1" height="1"/><rect x="828" y="16" width="1" height="1"/><rect x="816" y="6" width="1" height="1"/><rect x="828" y="6" width="1" height="1"/><rect x="816" y="8" width="1" height="1"/><rect x="828" y="8" width="1" height="1"/><rect x="816" y="10" width="1" height="1"/><rect x="828" y="10" width="1" height="1"/><rect x="816" y="12" width="1" height="1"/><rect x="828" y="12" width="1" height="1"/><rect x="816" y="14" width="1" height="1"/><rect x="828" y="14" width="1" height="1"/></g>
<text x="818.4" y="14.9" font-family="Liberation Sans, sans-serif" font-size="10.5" fill="#505050" stroke="#505050" stroke-width="0.3">T</text>
<path d="M846.6 3.9L850.1 7.2L846.6 8.9L843.1 7.2Z" fill="#505050"/><path d="M853.7 17.3L850.2 14L853.7 12.2L857.2 14Z" fill="#505050"/>
<path d="M845 11.8l2.6 2.1l4.4-5.6" stroke="#505050" stroke-width="1.3" fill="none"/>
<circle cx="1606.6" cy="7.4" r="4" fill="#f8faff" stroke="#2a5ad0" stroke-width="1.2"/><path d="M1603.6 10.6L1599 14.8" stroke="#2a5ad0" stroke-width="2.2" stroke-linecap="round"/>
<ellipse cx="1629" cy="12.2" rx="5.8" ry="4.6" fill="#e4e6ee" stroke="#b0b0b0" stroke-width="0.9"/><path d="M1625.6 15.8l0.6 2.6l2.4-2.2z" fill="#d0d0d8" stroke="#a8a8a8" stroke-width="0.6"/>
<circle cx="1637.4" cy="7.4" r="8.3" fill="url(#gRed)"/>
<text x="1633.6" y="12" font-family="Liberation Mono, monospace" font-size="13" font-weight="bold" fill="#fff">1</text></svg>
</div>
</body>
</html>
